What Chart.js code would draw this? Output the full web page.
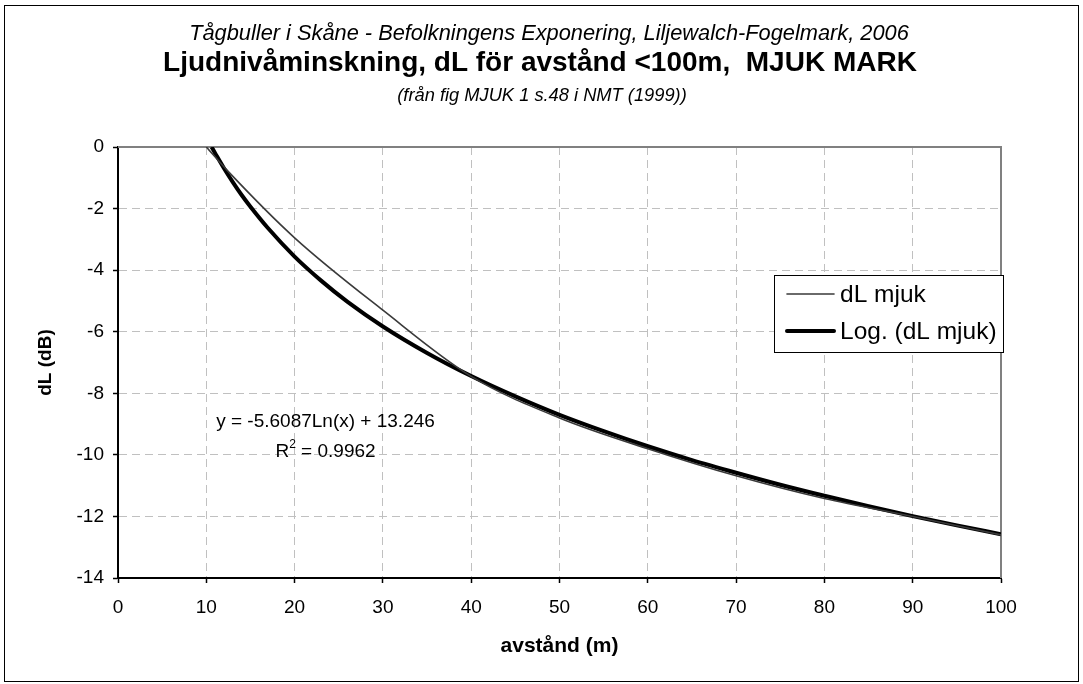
<!DOCTYPE html>
<html>
<head>
<meta charset="utf-8">
<script src="https://cdn.jsdelivr.net/npm/chart.js@4"></script>
<style>
  html, body { margin: 0; padding: 0; background: #fff; }
  canvas { display: block; }
</style>
</head>
<body>
<canvas id="c" width="1083" height="684"></canvas>
<script>
// ---- data ----
const titleLines = [
  "Tågbuller i Skåne - Befolkningens Exponering, Liljewalch-Fogelmark, 2006",
  "Ljudnivåminskning, dL för avstånd <100m,  MJUK MARK",
  "(från fig MJUK 1 s.48 i NMT (1999))"
];
const xAxisTitle = "avstånd (m)";
const yAxisTitle = "dL (dB)";
const seriesNames = ["dL mjuk", "Log. (dL mjuk)"];

// measured series "dL mjuk"
const measX = [10, 12.5, 20, 30, 40, 50, 60, 70, 80, 90, 100];
const measY = [0, -0.8, -2.95, -5.3, -7.45, -8.8, -9.8, -10.68, -11.42, -12.0, -12.6];

// logarithmic trend line "Log. (dL mjuk)"
const trendX = [10.6, 11, 12, 13, 14, 15, 17, 20, 23, 26, 30, 35, 40, 45, 50, 55, 60, 65, 70, 75, 80, 85, 90, 95, 100];
const trendY = [0, -0.20, -0.69, -1.14, -1.56, -1.94, -2.64, -3.56, -4.34, -5.03, -5.83, -6.69, -7.44, -8.10, -8.70, -9.23, -9.72, -10.17, -10.58, -10.97, -11.33, -11.67, -11.99, -12.29, -12.58];

const equationText = "y = -5.6087Ln(x) + 13.246";
const r2Label = "R";
const r2Sup = "2";
const r2Value = " = 0.9962";

const xMin = 0, xMax = 100, xStep = 10;
const yMin = -14, yMax = 0, yStep = 2;

const FONT = "'Liberation Sans', Arial, sans-serif";

const toPts = (xs, ys) => xs.map((x, i) => ({x: x, y: ys[i]}));

const decorPlugin = {
  id: 'decor',
  beforeDatasetsDraw(chart) {
    const {ctx, chartArea: a} = chart;
    ctx.save();
    ctx.strokeStyle = '#808080';
    ctx.lineWidth = 2;
    ctx.beginPath();
    ctx.moveTo(a.left, a.top);
    ctx.lineTo(a.right, a.top);
    ctx.lineTo(a.right, a.bottom);
    ctx.stroke();
    ctx.restore();
  },
  afterDraw(chart) {
    const {ctx} = chart;
    const xs = chart.scales.x, ys = chart.scales.y;
    ctx.save();
    // outer frame
    ctx.strokeStyle = '#000';
    ctx.lineWidth = 1;
    ctx.strokeRect(4.5, 5.5, 1074, 676);
    // titles
    ctx.fillStyle = '#000';
    ctx.textAlign = 'center';
    ctx.textBaseline = 'middle';
    ctx.font = "italic 21.8px " + FONT;
    ctx.fillText(titleLines[0], 549, 34);
    ctx.font = "bold 28px " + FONT;
    ctx.fillText(titleLines[1], 540, 63);
    ctx.font = "italic 18.3px " + FONT;
    ctx.fillText(titleLines[2], 542, 96);

    // equation label
    const ex = xs.getPixelForValue(23.5);
    ctx.font = "19px " + FONT;
    ctx.fillText(equationText, ex, ys.getPixelForValue(-8.93));
    const ry = ys.getPixelForValue(-9.9);
    const w1 = ctx.measureText(r2Label).width;
    const w3 = ctx.measureText(r2Value).width;
    ctx.font = "12px " + FONT;
    const w2 = ctx.measureText(r2Sup).width;
    const total = w1 + w2 + w3;
    let sx = ex - total / 2;
    ctx.textAlign = 'left';
    ctx.font = "19px " + FONT;
    ctx.fillText(r2Label, sx, ry);
    ctx.font = "12px " + FONT;
    ctx.fillText(r2Sup, sx + w1, ry - 7);
    ctx.font = "19px " + FONT;
    ctx.fillText(r2Value, sx + w1 + w2, ry);

    // legend box
    const lx = 774, ly = 275, lw = 229, lh = 77;
    ctx.fillStyle = '#fff';
    ctx.fillRect(lx, ly, lw, lh);
    ctx.strokeStyle = '#000';
    ctx.lineWidth = 1;
    ctx.strokeRect(lx + 0.5, ly + 0.5, lw, lh);
    const rows = [294, 331];
    chart.data.datasets.forEach((ds, i) => {
      ctx.strokeStyle = ds.borderColor;
      ctx.lineWidth = ds.borderWidth;
      ctx.lineCap = 'round';
      ctx.beginPath();
      ctx.moveTo(787, rows[i]);
      ctx.lineTo(834, rows[i]);
      ctx.stroke();
      ctx.fillStyle = '#000';
      ctx.font = "24.5px " + FONT;
      ctx.textAlign = 'left';
      ctx.textBaseline = 'middle';
      ctx.fillText(ds.label, 840, rows[i] + 1);
    });
    ctx.restore();
  }
};

new Chart(document.getElementById('c'), {
  type: 'line',
  data: {
    datasets: [
      {
        label: seriesNames[0],
        data: toPts(measX, measY),
        borderColor: '#3a3a3a',
        borderWidth: 1.6,
        pointRadius: 0,
        cubicInterpolationMode: 'monotone',
        fill: false
      },
      {
        label: seriesNames[1],
        data: toPts(trendX, trendY),
        borderColor: '#000000',
        borderWidth: 4,
        pointRadius: 0,
        cubicInterpolationMode: 'monotone',
        fill: false
      }
    ]
  },
  options: {
    responsive: false,
    animation: false,
    devicePixelRatio: 1,
    layout: { padding: { top: 147, left: 0, right: 82, bottom: 0 } },
    plugins: {
      legend: { display: false },
      title: { display: false },
      tooltip: { enabled: false }
    },
    scales: {
      x: {
        type: 'linear',
        min: xMin, max: xMax,
        afterFit: (s) => { s.height = 106; },
        ticks: { stepSize: xStep, color: '#000', font: { family: FONT, size: 19 }, padding: 13, maxRotation: 0 },
        grid: { color: '#c0c0c0', lineWidth: 1, tickColor: '#000', tickLength: 5, tickWidth: 1.5, tickBorderDash: [] },
        border: { color: '#000', width: 2, dash: [8, 5] },
        title: { display: true, text: xAxisTitle, color: '#000', font: { family: FONT, size: 21, weight: 'bold' }, padding: { top: 0, bottom: 25 } }
      },
      y: {
        type: 'linear',
        min: yMin, max: yMax,
        afterFit: (s) => { s.width = 118; },
        ticks: { stepSize: yStep, color: '#000', font: { family: FONT, size: 19 }, padding: 9 },
        grid: { color: '#c0c0c0', lineWidth: 1, tickColor: '#000', tickLength: 5, tickWidth: 1.5, tickBorderDash: [] },
        border: { color: '#000', width: 2, dash: [8, 5] },
        title: { display: true, text: yAxisTitle, color: '#000', font: { family: FONT, size: 19, weight: 'bold' }, padding: { top: 34, bottom: 0 } }
      }
    }
  },
  plugins: [decorPlugin]
});
</script>
</body>
</html>
